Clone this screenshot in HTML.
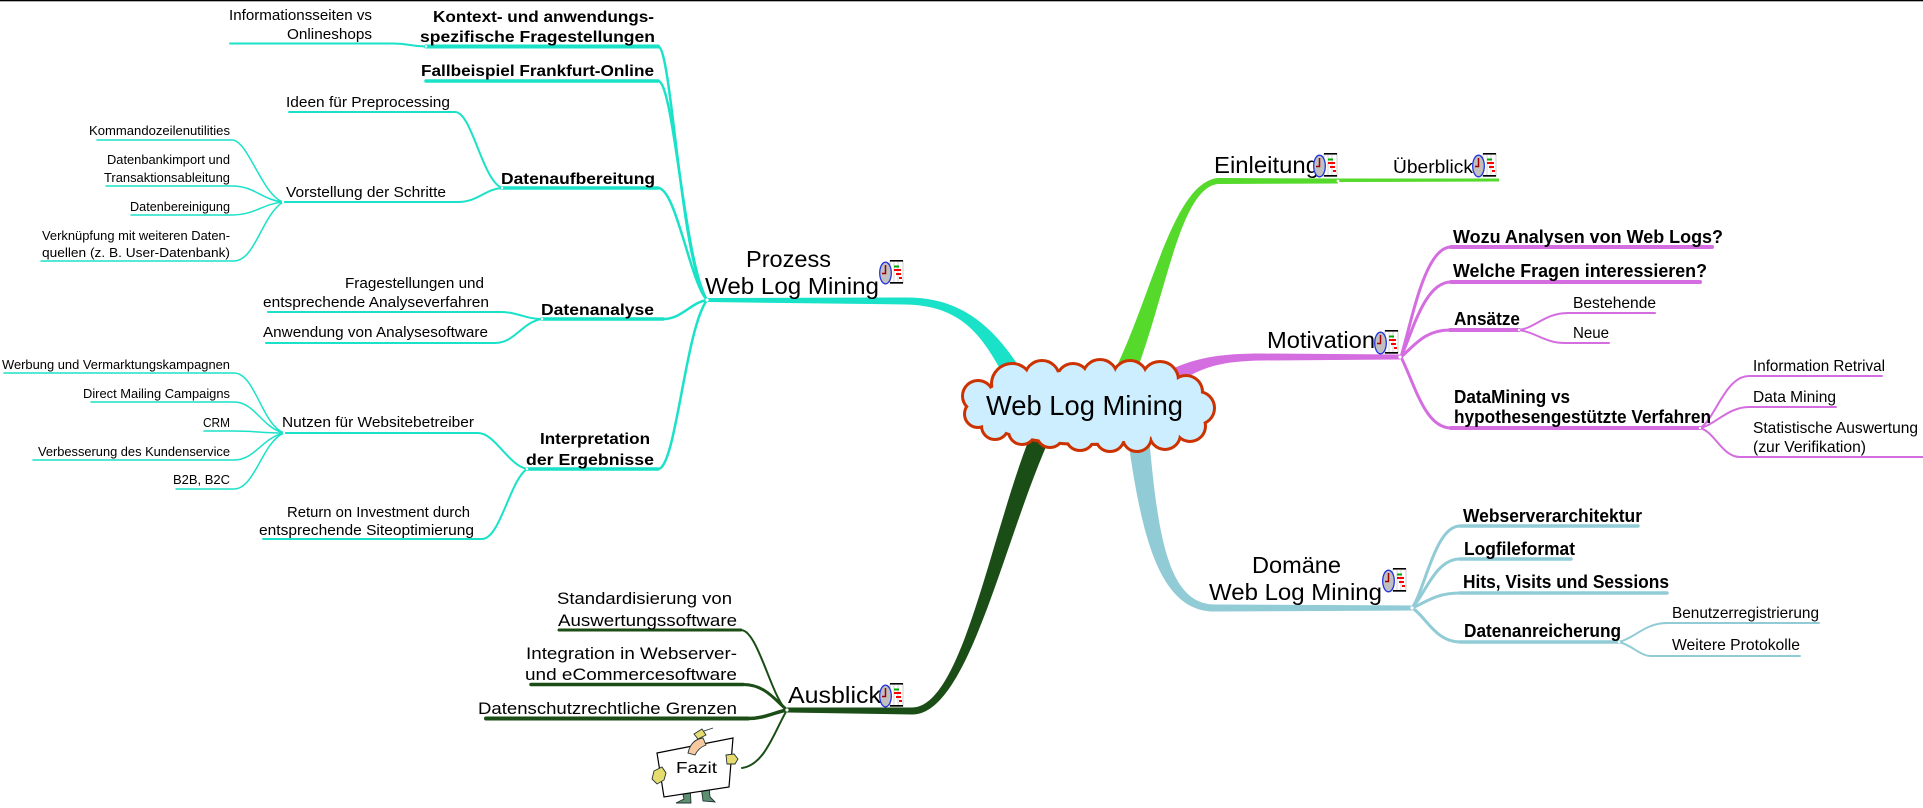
<!DOCTYPE html>
<html>
<head>
<meta charset="utf-8">
<style>
html,body{margin:0;padding:0;background:#fff;}
svg{display:block;}
text{font-family:"Liberation Sans",Arial,sans-serif;fill:#000;}
.c0{font-size:28px;}
.m{font-size:23px;}
.b16{font-size:16px;font-weight:bold;}
.b18{font-size:18px;font-weight:bold;}
.r18{font-size:18px;}
.r17{font-size:17px;}
.r16{font-size:16px;}
.r15{font-size:15px;}
.r13{font-size:13px;}
</style>
</head>
<body>
<svg width="1923" height="808" viewBox="0 0 1923 808" xmlns="http://www.w3.org/2000/svg">
<rect x="0" y="0" width="1923" height="808" fill="#fff"/>
<rect x="0" y="0" width="1923" height="1.3" fill="#000"/>

<!-- Cyan (Prozess) sub-branches -->
<g fill="none" stroke="#1ae2c8" stroke-linecap="round">
 <g stroke-width="4">
  <path d="M426,46.5 H658"/>
 </g>
 <g stroke-width="3.5">
  <path d="M426,81 H658"/>
  <path d="M502,188 H658"/>
  <path d="M542,319 H663"/>
  <path d="M527,469 H658"/>
 </g>
 <g stroke-width="2.5">
  <path d="M658,46.5 C672,46.5 680,260 707,300"/>
  <path d="M658,81 C674,81 684,262 707,300"/>
  <path d="M658,188 C676,188 690,282 707,300"/>
  <path d="M663,319 C682,319 690,303 707,300"/>
  <path d="M658,469 C676,469 685,330 707,300"/>
 </g>
 <g stroke-width="2">
  <path d="M230,43.5 H393 C410,43.5 410,46.5 426,46.5"/>
  <path d="M289,112 H455 C472,112 482,180 502,188"/>
  <path d="M283,202 H458 C478,202 485,189 502,188"/>
  <path d="M268,312 H500 C518,312 525,319 542,319"/>
  <path d="M266,343 H495 C515,343 522,322 542,319"/>
  <path d="M284,433 H478 C495,433 508,465 527,469"/>
  <path d="M263,539 H482 C500,539 510,480 527,469"/>
 </g>
 <g stroke-width="1.5">
  <path d="M97,140 H232 C248,140 262,195 283,202"/>
  <path d="M106,186 H232 C255,186 262,200 283,202"/>
  <path d="M131,215 H232 C255,215 262,204 283,202"/>
  <path d="M41,261 H234 C255,261 262,215 283,202"/>
  <path d="M4,373 H234 C255,373 262,425 284,433"/>
  <path d="M91,402 H234 C255,402 262,428 284,433"/>
  <path d="M204,431 H234 C255,431 262,433 284,433"/>
  <path d="M33,460 H234 C255,460 262,438 284,433"/>
  <path d="M176,489 H234 C255,489 262,442 284,433"/>
 </g>
</g>

<!-- Purple (Motivation) sub-branches -->
<g fill="none" stroke="#d46ddf" stroke-linecap="round">
 <g stroke-width="4">
  <path d="M1451,247 H1712"/>
  <path d="M1451,282 H1700"/>
  <path d="M1450,330 H1519"/>
  <path d="M1451,428 H1700"/>
 </g>
 <g stroke-width="3">
  <path d="M1401,357 C1412,320 1425,247 1451,247"/>
  <path d="M1401,357 C1413,330 1425,282 1451,282"/>
  <path d="M1401,357 C1415,345 1425,330 1450,330"/>
  <path d="M1401,357 C1415,385 1425,428 1451,428"/>
 </g>
 <g stroke-width="2">
  <path d="M1519,330 C1535,328 1545,313 1568,313 H1655"/>
  <path d="M1519,330 C1535,332 1545,343 1565,343 H1609"/>
  <path d="M1700,428 C1715,420 1725,376 1749,376 H1882"/>
  <path d="M1700,428 C1715,425 1728,407 1749,407 H1836"/>
  <path d="M1700,428 C1715,432 1722,457 1740,457 H1923"/>
 </g>
</g>

<!-- Light blue (Domäne) sub-branches -->
<g fill="none" stroke="#91cbd6" stroke-linecap="round">
 <g stroke-width="3.5">
  <path d="M1460,526 H1638"/>
  <path d="M1460,559 H1571"/>
  <path d="M1460,593 H1667"/>
  <path d="M1460,642 H1619"/>
 </g>
 <g stroke-width="3">
  <path d="M1412,608 C1425,590 1435,526 1460,526"/>
  <path d="M1412,608 C1425,595 1435,559 1460,559"/>
  <path d="M1412,608 C1425,603 1435,593 1460,593"/>
  <path d="M1412,608 C1425,615 1435,642 1460,642"/>
 </g>
 <g stroke-width="2">
  <path d="M1619,642 C1635,638 1645,623 1667,623 H1819"/>
  <path d="M1619,642 C1632,645 1640,656 1651,656 H1800"/>
 </g>
</g>

<!-- Dark green (Ausblick) sub-branches -->
<g fill="none" stroke="#1b4d16" stroke-linecap="round">
 <path d="M559,630 H741" stroke-width="3"/>
 <path d="M741,630 C758,630 772,700 787,710" stroke-width="2"/>
 <path d="M531,684.5 H743" stroke-width="3.5"/>
 <path d="M743,684.5 C765,684.5 775,700 787,710" stroke-width="3"/>
 <path d="M486,718.5 H748" stroke-width="4"/>
 <path d="M748,718.5 C765,718.5 775,712 787,710" stroke-width="3.5"/>
 <path d="M787,710 C775,730 765,765 742,768" stroke-width="2"/>
</g>

<!-- Main tapered branches -->
<path fill="#1ae2c8" d="M1019.7,367.4 C994,328.4 962,296.5 905,297.5 L707,298 L707,302 L905,304.5 C962,305.5 982,335.6 1004.3,376.6 Z"/>
<path fill="#55d92b" d="M1136.2,371.9 C1166.4,292.7 1180.5,188 1218,184 L1338,183.5 L1338,182 L1499,181.5 L1499,178.5 L1338,178.5 L1218,178 C1175,182 1153.6,287.3 1117.8,364.1 Z"/>
<path fill="#d46ddf" d="M1165.7,372.3 C1191.8,358 1220,353.5 1262,353.5 L1400,354.5 L1400,359.5 L1262,360.5 C1220,361 1198.2,368 1174.3,385.7 Z"/>
<path fill="#91cbd6" d="M1149,436 C1157.9,538.8 1169,604.5 1215,604.5 L1412,605.5 L1412,610.5 L1215,611.5 C1161,612 1142.1,541.2 1128,439 Z"/>
<path fill="#1b4d16" d="M1049,440 C1003,542.7 968,715.5 912,714.5 L787,712.5 L787,707.5 L912,707.5 C962,707.5 990,537 1031,434 Z"/>

<!-- junction dots -->
<g fill="#fff">
 <circle cx="707" cy="300" r="1.6"/>
 <circle cx="1338" cy="181" r="1.4"/>
 <circle cx="1400" cy="357" r="1.6"/>
 <circle cx="1412" cy="608" r="1.6"/>
 <circle cx="787" cy="710" r="1.6"/>
 <circle cx="502" cy="188" r="1.2"/>
 <circle cx="283" cy="202" r="1.2"/>
 <circle cx="542" cy="319" r="1.2"/>
 <circle cx="527" cy="469" r="1.2"/>
 <circle cx="284" cy="433" r="1.2"/>
 <circle cx="426" cy="46.5" r="1.2"/>
 <circle cx="1519" cy="330" r="1.2"/>
 <circle cx="1700" cy="428" r="1.2"/>
 <circle cx="1619" cy="642" r="1.2"/>
</g>

<!-- Cloud -->
<g fill="#cc3300" stroke="#cc3300" stroke-width="6">
 <ellipse cx="1087" cy="407" rx="112" ry="36"/>
 <circle cx="1012" cy="384" r="19"/>
 <circle cx="1042" cy="378" r="16"/>
 <circle cx="1073" cy="380" r="15"/>
 <circle cx="1100" cy="377" r="16"/>
 <circle cx="1130" cy="378" r="16"/>
 <circle cx="1160" cy="380" r="17"/>
 <circle cx="1186" cy="392" r="15"/>
 <circle cx="1198" cy="408" r="15"/>
 <circle cx="1190" cy="426" r="14"/>
 <circle cx="1165" cy="434" r="14"/>
 <circle cx="1137" cy="437" r="13"/>
 <circle cx="1110" cy="437" r="13"/>
 <circle cx="1080" cy="436" r="13"/>
 <circle cx="1050" cy="434" r="12"/>
 <circle cx="1022" cy="431" r="12"/>
 <circle cx="995" cy="426" r="12"/>
 <circle cx="978" cy="414" r="12"/>
 <circle cx="978" cy="396" r="14"/>
</g>
<g fill="#cdeefe">
 <ellipse cx="1087" cy="407" rx="112" ry="36"/>
 <circle cx="1012" cy="384" r="19"/>
 <circle cx="1042" cy="378" r="16"/>
 <circle cx="1073" cy="380" r="15"/>
 <circle cx="1100" cy="377" r="16"/>
 <circle cx="1130" cy="378" r="16"/>
 <circle cx="1160" cy="380" r="17"/>
 <circle cx="1186" cy="392" r="15"/>
 <circle cx="1198" cy="408" r="15"/>
 <circle cx="1190" cy="426" r="14"/>
 <circle cx="1165" cy="434" r="14"/>
 <circle cx="1137" cy="437" r="13"/>
 <circle cx="1110" cy="437" r="13"/>
 <circle cx="1080" cy="436" r="13"/>
 <circle cx="1050" cy="434" r="12"/>
 <circle cx="1022" cy="431" r="12"/>
 <circle cx="995" cy="426" r="12"/>
 <circle cx="978" cy="414" r="12"/>
 <circle cx="978" cy="396" r="14"/>
</g>

<!-- Texts -->
<text class="c0" x="986" y="415" textLength="197" lengthAdjust="spacingAndGlyphs">Web Log Mining</text>

<text class="b16" x="433" y="22" textLength="221" lengthAdjust="spacingAndGlyphs">Kontext- und anwendungs-</text>
<text class="b16" x="420" y="42" textLength="235" lengthAdjust="spacingAndGlyphs">spezifische Fragestellungen</text>
<text class="r15" x="229" y="20" textLength="143" lengthAdjust="spacingAndGlyphs">Informationsseiten vs</text>
<text class="r15" x="287" y="39" textLength="85" lengthAdjust="spacingAndGlyphs">Onlineshops</text>
<text class="b16" x="421" y="76" textLength="233" lengthAdjust="spacingAndGlyphs">Fallbeispiel Frankfurt-Online</text>
<text class="r15" x="286" y="107" textLength="164" lengthAdjust="spacingAndGlyphs">Ideen für Preprocessing</text>
<text class="b16" x="501" y="184" textLength="154" lengthAdjust="spacingAndGlyphs">Datenaufbereitung</text>
<text class="r15" x="286" y="197" textLength="160" lengthAdjust="spacingAndGlyphs">Vorstellung der Schritte</text>
<text class="r13" x="89" y="135" textLength="141" lengthAdjust="spacingAndGlyphs">Kommandozeilenutilities</text>
<text class="r13" x="107" y="164" textLength="123" lengthAdjust="spacingAndGlyphs">Datenbankimport und</text>
<text class="r13" x="104" y="182" textLength="126" lengthAdjust="spacingAndGlyphs">Transaktionsableitung</text>
<text class="r13" x="130" y="211" textLength="100" lengthAdjust="spacingAndGlyphs">Datenbereinigung</text>
<text class="r13" x="42" y="240" textLength="188" lengthAdjust="spacingAndGlyphs">Verknüpfung mit weiteren Daten-</text>
<text class="r13" x="42" y="257" textLength="188" lengthAdjust="spacingAndGlyphs">quellen (z. B. User-Datenbank)</text>

<text class="m" x="746" y="267" textLength="85" lengthAdjust="spacingAndGlyphs">Prozess</text>
<text class="m" x="705" y="294" textLength="174" lengthAdjust="spacingAndGlyphs">Web Log Mining</text>

<text class="r15" x="345" y="288" textLength="139" lengthAdjust="spacingAndGlyphs">Fragestellungen und</text>
<text class="r15" x="263" y="307" textLength="226" lengthAdjust="spacingAndGlyphs">entsprechende Analyseverfahren</text>
<text class="b16" x="541" y="315" textLength="113" lengthAdjust="spacingAndGlyphs">Datenanalyse</text>
<text class="r15" x="263" y="337" textLength="225" lengthAdjust="spacingAndGlyphs">Anwendung von Analysesoftware</text>
<text class="r13" x="2" y="369" textLength="228" lengthAdjust="spacingAndGlyphs">Werbung und Vermarktungskampagnen</text>
<text class="r13" x="83" y="398" textLength="147" lengthAdjust="spacingAndGlyphs">Direct Mailing Campaigns</text>
<text class="r13" x="203" y="427" textLength="27" lengthAdjust="spacingAndGlyphs">CRM</text>
<text class="r15" x="282" y="427" textLength="192" lengthAdjust="spacingAndGlyphs">Nutzen für Websitebetreiber</text>
<text class="r13" x="38" y="456" textLength="192" lengthAdjust="spacingAndGlyphs">Verbesserung des Kundenservice</text>
<text class="r13" x="173" y="484" textLength="57" lengthAdjust="spacingAndGlyphs">B2B, B2C</text>
<text class="b16" x="540" y="444" textLength="110" lengthAdjust="spacingAndGlyphs">Interpretation</text>
<text class="b16" x="526" y="465" textLength="128" lengthAdjust="spacingAndGlyphs">der Ergebnisse</text>
<text class="r15" x="287" y="517" textLength="183" lengthAdjust="spacingAndGlyphs">Return on Investment durch</text>
<text class="r15" x="259" y="535" textLength="215" lengthAdjust="spacingAndGlyphs">entsprechende Siteoptimierung</text>

<text class="m" x="1214" y="173" textLength="105" lengthAdjust="spacingAndGlyphs">Einleitung</text>
<text class="r18" x="1393" y="173" textLength="80" lengthAdjust="spacingAndGlyphs">Überblick</text>
<text class="m" x="1267" y="348" textLength="108" lengthAdjust="spacingAndGlyphs">Motivation</text>
<text class="b18" x="1453" y="243" textLength="270" lengthAdjust="spacingAndGlyphs">Wozu Analysen von Web Logs?</text>
<text class="b18" x="1453" y="277" textLength="254" lengthAdjust="spacingAndGlyphs">Welche Fragen interessieren?</text>
<text class="b18" x="1454" y="325" textLength="66" lengthAdjust="spacingAndGlyphs">Ansätze</text>
<text class="r16" x="1573" y="308" textLength="83" lengthAdjust="spacingAndGlyphs">Bestehende</text>
<text class="r16" x="1573" y="338" textLength="36" lengthAdjust="spacingAndGlyphs">Neue</text>
<text class="b18" x="1454" y="403" textLength="116" lengthAdjust="spacingAndGlyphs">DataMining vs</text>
<text class="b18" x="1454" y="423" textLength="257" lengthAdjust="spacingAndGlyphs">hypothesengestützte Verfahren</text>
<text class="r16" x="1753" y="371" textLength="132" lengthAdjust="spacingAndGlyphs">Information Retrival</text>
<text class="r16" x="1753" y="402" textLength="83" lengthAdjust="spacingAndGlyphs">Data Mining</text>
<text class="r16" x="1753" y="433" textLength="165" lengthAdjust="spacingAndGlyphs">Statistische Auswertung</text>
<text class="r16" x="1753" y="452" textLength="113" lengthAdjust="spacingAndGlyphs">(zur Verifikation)</text>

<text class="m" x="1252" y="573" textLength="89" lengthAdjust="spacingAndGlyphs">Domäne</text>
<text class="m" x="1209" y="600" textLength="173" lengthAdjust="spacingAndGlyphs">Web Log Mining</text>
<text class="b18" x="1463" y="522" textLength="179" lengthAdjust="spacingAndGlyphs">Webserverarchitektur</text>
<text class="b18" x="1464" y="555" textLength="111" lengthAdjust="spacingAndGlyphs">Logfileformat</text>
<text class="b18" x="1463" y="588" textLength="206" lengthAdjust="spacingAndGlyphs">Hits, Visits und Sessions</text>
<text class="b18" x="1464" y="637" textLength="157" lengthAdjust="spacingAndGlyphs">Datenanreicherung</text>
<text class="r16" x="1672" y="618" textLength="147" lengthAdjust="spacingAndGlyphs">Benutzerregistrierung</text>
<text class="r16" x="1672" y="650" textLength="128" lengthAdjust="spacingAndGlyphs">Weitere Protokolle</text>

<text class="m" x="788" y="703" textLength="93" lengthAdjust="spacingAndGlyphs">Ausblick</text>
<text class="r17" x="557" y="604" textLength="175" lengthAdjust="spacingAndGlyphs">Standardisierung von</text>
<text class="r17" x="558" y="626" textLength="179" lengthAdjust="spacingAndGlyphs">Auswertungssoftware</text>
<text class="r17" x="526" y="659" textLength="211" lengthAdjust="spacingAndGlyphs">Integration in Webserver-</text>
<text class="r17" x="525" y="680" textLength="212" lengthAdjust="spacingAndGlyphs">und eCommercesoftware</text>
<text class="r17" x="478" y="714" textLength="259" lengthAdjust="spacingAndGlyphs">Datenschutzrechtliche Grenzen</text>

<!-- Icons -->
<g transform="translate(1313,153)">
 <rect x="11" y="0.5" width="13" height="23" fill="#fff" stroke="#aaa" stroke-width="0.6"/>
 <rect x="11" y="0" width="13" height="1.6" fill="#000"/>
 <rect x="11" y="22" width="13" height="1.6" fill="#000"/>
 <line x1="15" y1="2" x2="15" y2="22" stroke="#aaa" stroke-width="0.5"/>
 <line x1="19" y1="2" x2="19" y2="22" stroke="#aaa" stroke-width="0.5"/>
 <rect x="15" y="5.5" width="5" height="2" fill="#0a0"/>
 <rect x="15" y="9" width="7" height="2" fill="#f00"/>
 <rect x="17" y="13" width="5" height="2" fill="#f00"/>
 <rect x="20" y="17" width="3" height="2" fill="#f00"/>
 <ellipse cx="6.5" cy="13" rx="5.8" ry="10.8" fill="#c0c0c0" stroke="#2233dd" stroke-width="1.3"/>
 <path d="M6.5,5 V13.5 H3" stroke="#a00000" stroke-width="1.5" fill="none"/>
</g>
<g transform="translate(1472,153)">
 <rect x="11" y="0.5" width="13" height="23" fill="#fff" stroke="#aaa" stroke-width="0.6"/>
 <rect x="11" y="0" width="13" height="1.6" fill="#000"/>
 <rect x="11" y="22" width="13" height="1.6" fill="#000"/>
 <line x1="15" y1="2" x2="15" y2="22" stroke="#aaa" stroke-width="0.5"/>
 <line x1="19" y1="2" x2="19" y2="22" stroke="#aaa" stroke-width="0.5"/>
 <rect x="15" y="5.5" width="5" height="2" fill="#0a0"/>
 <rect x="15" y="9" width="7" height="2" fill="#f00"/>
 <rect x="17" y="13" width="5" height="2" fill="#f00"/>
 <rect x="20" y="17" width="3" height="2" fill="#f00"/>
 <ellipse cx="6.5" cy="13" rx="5.8" ry="10.8" fill="#c0c0c0" stroke="#2233dd" stroke-width="1.3"/>
 <path d="M6.5,5 V13.5 H3" stroke="#a00000" stroke-width="1.5" fill="none"/>
</g>
<g transform="translate(1374,330)">
 <rect x="11" y="0.5" width="13" height="23" fill="#fff" stroke="#aaa" stroke-width="0.6"/>
 <rect x="11" y="0" width="13" height="1.6" fill="#000"/>
 <rect x="11" y="22" width="13" height="1.6" fill="#000"/>
 <line x1="15" y1="2" x2="15" y2="22" stroke="#aaa" stroke-width="0.5"/>
 <line x1="19" y1="2" x2="19" y2="22" stroke="#aaa" stroke-width="0.5"/>
 <rect x="15" y="5.5" width="5" height="2" fill="#0a0"/>
 <rect x="15" y="9" width="7" height="2" fill="#f00"/>
 <rect x="17" y="13" width="5" height="2" fill="#f00"/>
 <rect x="20" y="17" width="3" height="2" fill="#f00"/>
 <ellipse cx="6.5" cy="13" rx="5.8" ry="10.8" fill="#c0c0c0" stroke="#2233dd" stroke-width="1.3"/>
 <path d="M6.5,5 V13.5 H3" stroke="#a00000" stroke-width="1.5" fill="none"/>
</g>
<g transform="translate(879,260)">
 <rect x="11" y="0.5" width="13" height="23" fill="#fff" stroke="#aaa" stroke-width="0.6"/>
 <rect x="11" y="0" width="13" height="1.6" fill="#000"/>
 <rect x="11" y="22" width="13" height="1.6" fill="#000"/>
 <line x1="15" y1="2" x2="15" y2="22" stroke="#aaa" stroke-width="0.5"/>
 <line x1="19" y1="2" x2="19" y2="22" stroke="#aaa" stroke-width="0.5"/>
 <rect x="15" y="5.5" width="5" height="2" fill="#0a0"/>
 <rect x="15" y="9" width="7" height="2" fill="#f00"/>
 <rect x="17" y="13" width="5" height="2" fill="#f00"/>
 <rect x="20" y="17" width="3" height="2" fill="#f00"/>
 <ellipse cx="6.5" cy="13" rx="5.8" ry="10.8" fill="#c0c0c0" stroke="#2233dd" stroke-width="1.3"/>
 <path d="M6.5,5 V13.5 H3" stroke="#a00000" stroke-width="1.5" fill="none"/>
</g>
<g transform="translate(1382,568)">
 <rect x="11" y="0.5" width="13" height="23" fill="#fff" stroke="#aaa" stroke-width="0.6"/>
 <rect x="11" y="0" width="13" height="1.6" fill="#000"/>
 <rect x="11" y="22" width="13" height="1.6" fill="#000"/>
 <line x1="15" y1="2" x2="15" y2="22" stroke="#aaa" stroke-width="0.5"/>
 <line x1="19" y1="2" x2="19" y2="22" stroke="#aaa" stroke-width="0.5"/>
 <rect x="15" y="5.5" width="5" height="2" fill="#0a0"/>
 <rect x="15" y="9" width="7" height="2" fill="#f00"/>
 <rect x="17" y="13" width="5" height="2" fill="#f00"/>
 <rect x="20" y="17" width="3" height="2" fill="#f00"/>
 <ellipse cx="6.5" cy="13" rx="5.8" ry="10.8" fill="#c0c0c0" stroke="#2233dd" stroke-width="1.3"/>
 <path d="M6.5,5 V13.5 H3" stroke="#a00000" stroke-width="1.5" fill="none"/>
</g>
<g transform="translate(879,683)">
 <rect x="11" y="0.5" width="13" height="23" fill="#fff" stroke="#aaa" stroke-width="0.6"/>
 <rect x="11" y="0" width="13" height="1.6" fill="#000"/>
 <rect x="11" y="22" width="13" height="1.6" fill="#000"/>
 <line x1="15" y1="2" x2="15" y2="22" stroke="#aaa" stroke-width="0.5"/>
 <line x1="19" y1="2" x2="19" y2="22" stroke="#aaa" stroke-width="0.5"/>
 <rect x="15" y="5.5" width="5" height="2" fill="#0a0"/>
 <rect x="15" y="9" width="7" height="2" fill="#f00"/>
 <rect x="17" y="13" width="5" height="2" fill="#f00"/>
 <rect x="20" y="17" width="3" height="2" fill="#f00"/>
 <ellipse cx="6.5" cy="13" rx="5.8" ry="10.8" fill="#c0c0c0" stroke="#2233dd" stroke-width="1.3"/>
 <path d="M6.5,5 V13.5 H3" stroke="#a00000" stroke-width="1.5" fill="none"/>
</g>

<!-- Fazit figure -->
<g stroke="#233" stroke-width="0.9">
 <path d="M681,786 L684,799 L676,803 L691,803 L690,786 Z" fill="#5d8f70"/>
 <path d="M701,786 L703,801 L715,802 L710,797 L709,786 Z" fill="#5d8f70"/>
 <polygon points="657,753 733,738 729,787 664,797" fill="#fff" stroke="#000" stroke-width="1.2"/>
 <path d="M688,753 C690,744 695,739 703,738 L706,745 C700,747 697,751 695,755 Z" fill="#f6c9a0"/>
 <path d="M694,734 L702,729 L706,735 L698,739 Z" fill="#e6dc6e"/>
 <line x1="704" y1="731" x2="713" y2="728"/>
 <path d="M654,771 L662,767 L666,773 L664,780 L657,784 L652,779 Z" fill="#e6dc6e"/>
 <path d="M726,755 L734,754 L738,759 L735,764 L727,764 Z" fill="#e6dc6e"/>
</g>
<text class="r16" x="676" y="773" textLength="41" lengthAdjust="spacingAndGlyphs">Fazit</text>
</svg>
</body>
</html>
